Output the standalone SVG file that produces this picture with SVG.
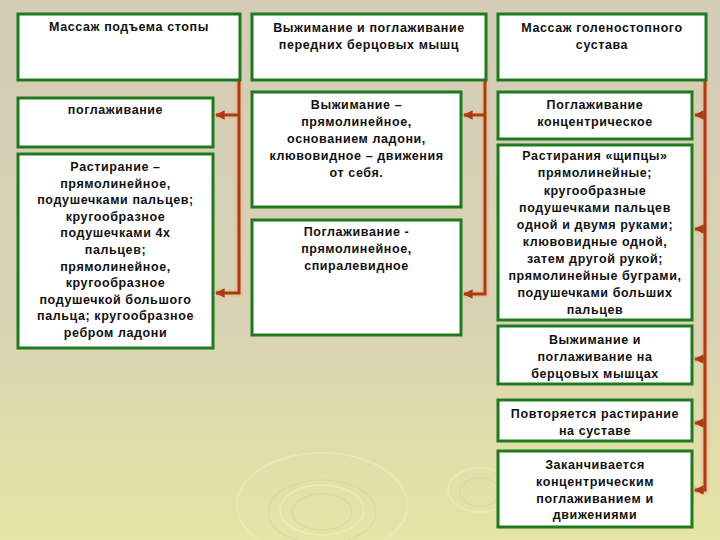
<svg xmlns="http://www.w3.org/2000/svg" width="720" height="540" viewBox="0 0 720 540">
<defs>
<linearGradient id="bg" x1="0" y1="0" x2="0" y2="1">
<stop offset="0" stop-color="#d4ccb6"/>
<stop offset="0.6" stop-color="#d9d3b4"/>
<stop offset="0.85" stop-color="#e2dea8"/>
<stop offset="1" stop-color="#e6e4a6"/>
</linearGradient>
<marker id="ah" viewBox="0 0 10 10" refX="9" refY="5" markerWidth="3.2" markerHeight="3.2" orient="auto" markerUnits="strokeWidth">
<path d="M0,0 L10,5 L0,10 z" fill="#a83c14"/>
</marker>
<style>
.box{fill:#ffffff;stroke:#1f7a1f;stroke-width:3}
.t{font-family:"Liberation Sans",Arial,sans-serif;font-weight:bold;font-size:12.5px;letter-spacing:0.6px;fill:#111;text-anchor:middle}
.halo{fill:none;stroke:#eab894;stroke-width:7;stroke-opacity:0.75}
.ln{fill:none;stroke:#a83c14;stroke-width:3}
.rip{fill:none;stroke:#f3efc6;stroke-width:2;opacity:0.45}
.rips{fill:none;stroke:#c9c494;stroke-width:1.2;opacity:0.3}
</style>
</defs>
<rect width="720" height="540" fill="url(#bg)"/>
<g id="ripples">
<ellipse class="rips" cx="322" cy="512" rx="30" ry="18"/>
<ellipse class="rip" cx="322" cy="510" rx="42" ry="25"/>
<ellipse class="rips" cx="322" cy="512" rx="54" ry="32"/>
<ellipse class="rip" cx="322" cy="505" rx="85" ry="52"/>
<ellipse class="rips" cx="480" cy="492" rx="20" ry="14"/>
<ellipse class="rip" cx="480" cy="490" rx="32" ry="22"/>
</g>
<g id="connectors">
<path class="halo" d="M239,80 V293 H216 M239,115 H216"/>
<path class="ln" d="M239,80 V293 H216" marker-end="url(#ah)"/>
<path class="ln" d="M239,115 H216" marker-end="url(#ah)"/>
<path class="halo" d="M485,65 V294 H463 M485,115 H463"/>
<path class="ln" d="M485,65 V294 H464" marker-end="url(#ah)"/>
<path class="ln" d="M485,115 H464" marker-end="url(#ah)"/>
<path class="halo" d="M705,80 V490 H694 M705,115 H694 M705,229 H694 M705,359 H694 M705,423 H694"/>
<path class="ln" d="M705,80 V490 H695" marker-end="url(#ah)"/>
<path class="ln" d="M705,115 H695" marker-end="url(#ah)"/>
<path class="ln" d="M705,229 H695" marker-end="url(#ah)"/>
<path class="ln" d="M705,359 H695" marker-end="url(#ah)"/>
<path class="ln" d="M705,423 H695" marker-end="url(#ah)"/>
</g>
<g id="n1">
<rect class="box" x="18" y="14" width="222" height="66"/>
<text class="t" x="129" y="31">Массаж подъема стопы</text>
</g>
<g id="n2">
<rect class="box" x="18" y="98" width="195" height="49"/>
<text class="t" x="115.5" y="114">поглаживание</text>
</g>
<g id="n3">
<rect class="box" x="18" y="154" width="195" height="194"/>
<text class="t" x="115.5" y="171">Растирание –</text>
<text class="t" x="115.5" y="187.6">прямолинейное,</text>
<text class="t" x="115.5" y="204.2">подушечками пальцев;</text>
<text class="t" x="115.5" y="220.8">кругообразное</text>
<text class="t" x="115.5" y="237.4">подушечками 4х</text>
<text class="t" x="115.5" y="254">пальцев;</text>
<text class="t" x="115.5" y="270.6">прямолинейное,</text>
<text class="t" x="115.5" y="287.2">кругообразное</text>
<text class="t" x="115.5" y="303.8">подушечкой большого</text>
<text class="t" x="115.5" y="320.4">пальца; кругообразное</text>
<text class="t" x="115.5" y="337">ребром ладони</text>
</g>
<g id="n4">
<rect class="box" x="252" y="14" width="234" height="66"/>
<text class="t" x="369" y="31.5">Выжимание и поглаживание</text>
<text class="t" x="369" y="49">передних берцовых мышц</text>
</g>
<g id="n5">
<rect class="box" x="252" y="92" width="209" height="115"/>
<text class="t" x="356.5" y="109">Выжимание –</text>
<text class="t" x="356.5" y="126">прямолинейное,</text>
<text class="t" x="356.5" y="143">основанием ладони,</text>
<text class="t" x="356.5" y="160">клювовидное – движения</text>
<text class="t" x="356.5" y="177">от себя.</text>
</g>
<g id="n6">
<rect class="box" x="252" y="220" width="209" height="115"/>
<text class="t" x="356.5" y="236">Поглаживание -</text>
<text class="t" x="356.5" y="253">прямолинейное,</text>
<text class="t" x="356.5" y="270">спиралевидное</text>
</g>
<g id="n7">
<rect class="box" x="498" y="14" width="208" height="66"/>
<text class="t" x="602" y="31.5">Массаж голеностопного</text>
<text class="t" x="602" y="49">сустава</text>
</g>
<g id="n8">
<rect class="box" x="498" y="92" width="194" height="47"/>
<text class="t" x="595" y="109">Поглаживание</text>
<text class="t" x="595" y="126">концентрическое</text>
</g>
<g id="n9">
<rect class="box" x="498" y="145" width="194" height="175"/>
<text class="t" x="595" y="160">Растирания «щипцы»</text>
<text class="t" x="595" y="177">прямолинейные;</text>
<text class="t" x="595" y="194.5">кругообразные</text>
<text class="t" x="595" y="211.5">подушечками пальцев</text>
<text class="t" x="595" y="228.5">одной и двумя руками;</text>
<text class="t" x="595" y="245.5">клювовидные одной,</text>
<text class="t" x="595" y="262.5">затем другой рукой;</text>
<text class="t" x="595" y="279.5">прямолинейные буграми,</text>
<text class="t" x="595" y="296.5">подушечками больших</text>
<text class="t" x="595" y="313.5">пальцев</text>
</g>
<g id="n10">
<rect class="box" x="498" y="326" width="194" height="58"/>
<text class="t" x="595" y="344">Выжимание и</text>
<text class="t" x="595" y="361">поглаживание на</text>
<text class="t" x="595" y="377.5">берцовых мышцах</text>
</g>
<g id="n11">
<rect class="box" x="498" y="400" width="194" height="41"/>
<text class="t" x="595" y="418">Повторяется растирание</text>
<text class="t" x="595" y="435">на суставе</text>
</g>
<g id="n12">
<rect class="box" x="498" y="451" width="194" height="76"/>
<text class="t" x="595" y="468.5">Заканчивается</text>
<text class="t" x="595" y="486">концентрическим</text>
<text class="t" x="595" y="502.5">поглаживанием и</text>
<text class="t" x="595" y="519">движениями</text>
</g>
</svg>
